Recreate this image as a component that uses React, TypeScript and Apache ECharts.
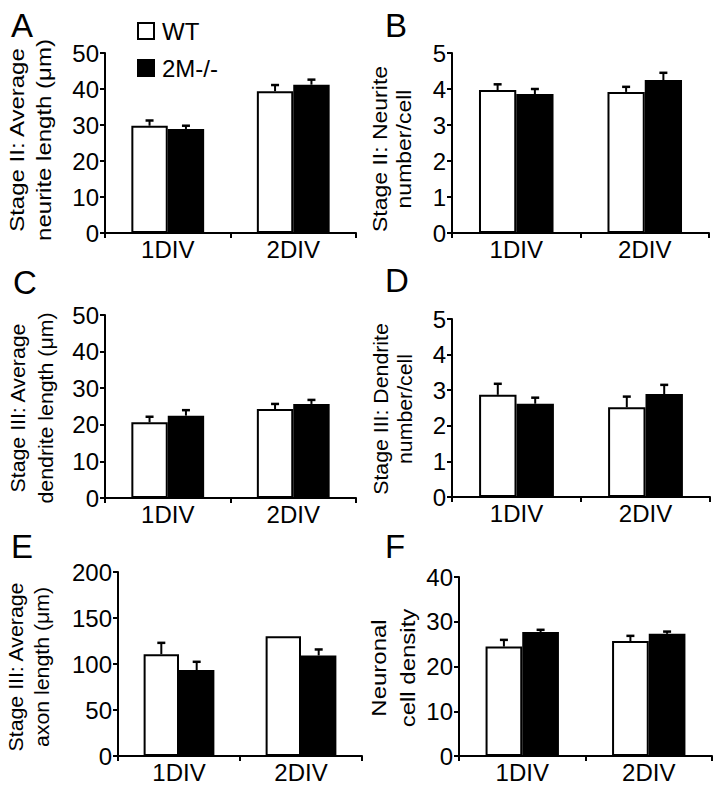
import React, { useEffect, useRef } from 'react';
import * as echarts from 'echarts';

const categories = ['1DIV', '2DIV'];
const seriesNames = ['WT', '2M-/-'];
const panelLetters = ['A', 'B', 'C', 'D', 'E', 'F'];
const yTitles = [
  'Stage II: Average\nneurite length (μm)',
  'Stage II: Neurite\nnumber/cell',
  'Stage III: Average\ndendrite length (μm)',
  'Stage III: Dendrite\nnumber/cell',
  'Stage III: Average\naxon length (μm)',
  'Neuronal\ncell density',
];
const yMax = [50, 5, 50, 5, 200, 40];
const yInterval = [10, 1, 10, 1, 50, 10];

// Panel A
const wtMeanA = [29.8, 39.4];
const wtErrA = [1.45, 1.7];
const koMeanA = [28.9, 41.2];
const koErrA = [0.9, 1.4];
// Panel B
const wtMeanB = [3.97, 3.92];
const wtErrB = [0.16, 0.14];
const koMeanB = [3.86, 4.25];
const koErrB = [0.14, 0.2];
// Panel C
const wtMeanC = [20.7, 24.3];
const wtErrC = [1.5, 1.4];
const koMeanC = [22.5, 25.7];
const koErrC = [1.5, 1.1];
// Panel D
const wtMeanD = [2.87, 2.52];
const wtErrD = [0.31, 0.3];
const koMeanD = [2.62, 2.89];
const koErrD = [0.17, 0.26];
// Panel E
const wtMeanE = [110.7, 130.2];
const wtErrE = [12.3, 0];
const koMeanE = [93.4, 109.3];
const koErrE = [9.0, 6.5];
// Panel F
const wtMeanF = [24.45, 25.7];
const wtErrF = [1.5, 1.15];
const koMeanF = [27.7, 27.3];
const koErrF = [0.5, 0.5];

const wtMeans = [wtMeanA, wtMeanB, wtMeanC, wtMeanD, wtMeanE, wtMeanF];
const wtErrs = [wtErrA, wtErrB, wtErrC, wtErrD, wtErrE, wtErrF];
const koMeans = [koMeanA, koMeanB, koMeanC, koMeanD, koMeanE, koMeanF];
const koErrs = [koErrA, koErrB, koErrC, koErrD, koErrE, koErrF];

const FONT = '"Liberation Sans", Arial, Helvetica, sans-serif';
const BAR_FRAC = 0.29;

const grids = [
  { left: 105, top: 53, width: 251, height: 180 },
  { left: 452, top: 53, width: 257, height: 180 },
  { left: 105, top: 315, width: 251, height: 183 },
  { left: 452, top: 319, width: 258, height: 178 },
  { left: 118, top: 572, width: 244, height: 184 },
  { left: 459, top: 577, width: 253, height: 179 },
];
// y-axis title layout: centre x, centre y, font size, line spacing (px on screen)
const titleLayout = [
  { cx: 31, cy: 140, size: 24, spacing: 26.5 },
  { cx: 393, cy: 149, size: 23, spacing: 24 },
  { cx: 32, cy: 408, size: 21.3, spacing: 28 },
  { cx: 393, cy: 409, size: 21.3, spacing: 24 },
  { cx: 29, cy: 667, size: 21.3, spacing: 26 },
  { cx: 394, cy: 668, size: 24, spacing: 29 },
];
const TITLE_THICKNESS = 18;
const letterPos = [
  { left: 11, top: 9 },
  { left: 385, top: 9 },
  { left: 13, top: 266 },
  { left: 385, top: 264 },
  { left: 11, top: 530 },
  { left: 385, top: 530 },
];

function errSeries(panel: number, mean: number[], err: number[], side: number) {
  return {
    type: 'custom',
    xAxisIndex: panel,
    yAxisIndex: panel,
    silent: true,
    z: 5,
    data: mean.map((m, j) => [j, m, m + err[j]]),
    encode: { x: 0, y: [1, 2] },
    renderItem: (params: any, api: any) => {
      const j = api.value(0);
      if (!(api.value(2) > api.value(1))) return null;
      const top = api.coord([j, api.value(2)]);
      const base = api.coord([j, api.value(1)]);
      const band = api.size([1, 0])[0];
      const x = top[0] + (side * band * BAR_FRAC) / 2;
      const cap = 4;
      return {
        type: 'group',
        children: [
          {
            type: 'line',
            shape: { x1: x, y1: base[1], x2: x, y2: top[1] },
            style: { stroke: '#000', lineWidth: 2 },
          },
          {
            type: 'line',
            shape: { x1: x - cap, y1: top[1], x2: x + cap, y2: top[1] },
            style: { stroke: '#000', lineWidth: 2.5 },
          },
        ],
      };
    },
  };
}

export default function App() {
  const ref = useRef<HTMLDivElement>(null);
  useEffect(() => {
    if (!ref.current) return;
    const chart = echarts.init(ref.current, null, { renderer: 'svg' });
    const series: any[] = [];
    for (let i = 0; i < 6; i++) {
      series.push({
        type: 'bar',
        name: seriesNames[0],
        xAxisIndex: i,
        yAxisIndex: i,
        data: wtMeans[i],
        barWidth: `${BAR_FRAC * 100}%`,
        barGap: '0%',
        itemStyle: { color: '#fff', borderColor: '#000', borderWidth: 2 },
      });
      series.push({
        type: 'bar',
        name: seriesNames[1],
        xAxisIndex: i,
        yAxisIndex: i,
        data: koMeans[i],
        barWidth: `${BAR_FRAC * 100}%`,
        barGap: '0%',
        itemStyle: { color: '#000', borderColor: '#000', borderWidth: 2 },
      });
    }
    for (let i = 0; i < 6; i++) {
      series.push(errSeries(i, wtMeans[i], wtErrs[i], -1));
      series.push(errSeries(i, koMeans[i], koErrs[i], 1));
    }
    const titleGraphics = yTitles.map((t, i) => {
      const L = titleLayout[i];
      const sy = TITLE_THICKNESS / (0.93 * L.size);
      return {
        type: 'text',
        x: L.cx,
        y: L.cy,
        rotation: Math.PI / 2,
        scaleX: 1,
        scaleY: sy,
        silent: true,
        style: {
          text: t,
          fontSize: L.size,
          fontFamily: FONT,
          fill: '#000',
          align: 'center',
          verticalAlign: 'middle',
          lineHeight: L.spacing / sy,
        },
      };
    });
    const option: any = {
      animation: false,
      backgroundColor: '#fff',
      textStyle: { fontFamily: FONT, color: '#000' },
      title: panelLetters.map((t, i) => ({
        text: t,
        left: letterPos[i].left,
        top: letterPos[i].top,
        padding: 0,
        textStyle: { fontSize: 33, fontWeight: 'normal', color: '#000', fontFamily: FONT },
      })),
      legend: {
        data: seriesNames,
        orient: 'vertical',
        left: 137,
        top: 19,
        padding: 0,
        itemWidth: 16,
        itemHeight: 16,
        itemGap: 13,
        icon: 'rect',
        selectedMode: false,
        textStyle: {
          fontSize: 24,
          color: '#000',
          fontFamily: FONT,
          lineHeight: 16,
          padding: [0, 0, 0, 3],
        },
      },
      graphic: titleGraphics,
      grid: grids.map((g) => ({ ...g, containLabel: false, outerBoundsMode: 'none' })),
      xAxis: grids.map((g, i) => ({
        type: 'category',
        gridIndex: i,
        data: categories,
        axisLine: { show: true, lineStyle: { color: '#000', width: 2 } },
        axisTick: { show: true, alignWithLabel: false, length: 5, lineStyle: { color: '#000', width: 2 } },
        axisLabel: { color: '#000', fontSize: 24, margin: 4, fontFamily: FONT },
        splitLine: { show: false },
      })),
      yAxis: grids.map((g, i) => ({
        type: 'value',
        gridIndex: i,
        min: 0,
        max: yMax[i],
        interval: yInterval[i],
        axisLine: { show: true, lineStyle: { color: '#000', width: 2 } },
        axisTick: { show: true, length: 5, lineStyle: { color: '#000', width: 2 } },
        axisLabel: { color: '#000', fontSize: 24, margin: 6, fontFamily: FONT },
        splitLine: { show: false },
      })),
      series,
    };
    chart.setOption(option);
    return () => chart.dispose();
  }, []);
  return (
    <div
      ref={ref}
      style={{ position: 'fixed', left: 0, top: 0, width: 724, height: 793, background: '#fff' }}
    />
  );
}
